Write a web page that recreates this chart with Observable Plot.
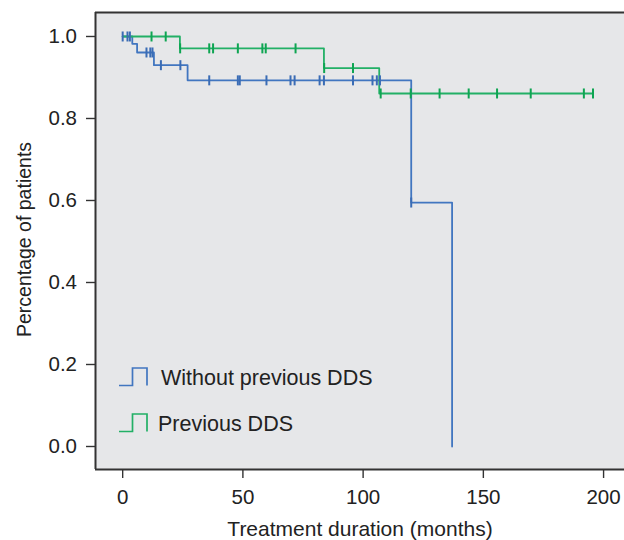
<!DOCTYPE html>
<html><head><meta charset="utf-8">
<script src="https://cdn.jsdelivr.net/npm/d3@7"></script>
<script src="https://cdn.jsdelivr.net/npm/@observablehq/plot@0.6"></script>
<style>
body{margin:0;background:#fff}
#wrap{position:relative;width:624px;height:540px;overflow:hidden;font-family:"Liberation Sans",Arial,sans-serif;color:#222}
.leg{position:absolute;left:119px;display:flex;align-items:flex-end;font-size:21.5px;line-height:1}
.leg svg{display:block;margin-right:14px}
</style>
</head><body><div id="wrap"></div>
<script>
const groups = ["Without previous DDS", "Previous DDS"];
const colors = ["#4176c0", "#22b066"];
const markColors = ["#3a6cb5", "#0ea552"];
// Kaplan-Meier steps (months, survival proportion)
const blueStepTimes = [0, 4, 6, 13, 27, 120, 137];
const blueStepSurv  = [1.0, 0.982, 0.961, 0.930, 0.893, 0.595, 0.0];
const blueCensorTimes = [0, 2, 3, 9.9, 11.5, 12.4, 15.9, 24.0, 36.0, 47.9, 48.7, 59.8, 69.8, 71.5, 81.9, 83.7, 95.8, 103.9, 105.7, 107.0, 120];
const greenStepTimes = [0, 23.8, 83.7, 106.7, 195.6];
const greenStepSurv  = [1.0, 0.971, 0.923, 0.861, 0.861];
const greenCensorTimes = [12.0, 17.9, 23.9, 36.0, 37.6, 47.9, 58.1, 59.5, 71.9, 83.8, 95.8, 107.3, 119.8, 131.8, 143.9, 155.7, 169.7, 191.8, 195.6];
const xTicks = [0, 50, 100, 150, 200];
const yTicks = [0, 0.2, 0.4, 0.6, 0.8, 1.0];
const xDomain = [-11.3, 208.7];
const yDomain = [-0.0561, 1.0585];
const xLabel = "Treatment duration (months)";
const yLabel = "Percentage of patients";

function steps(times, surv, g) { return times.map((t, i) => ({t, s: surv[i], g})); }
function censors(times, stepT, stepS, g) {
  return times.map(t => {
    let s = stepS[0];
    stepT.forEach((st, i) => { if (t >= st) s = stepS[i]; });
    return {t, s, g};
  });
}
const lineData = [
  ...steps(blueStepTimes, blueStepSurv, groups[0]),
  ...steps(greenStepTimes, greenStepSurv, groups[1])
];
const censorData = [
  ...censors(blueCensorTimes, blueStepTimes, blueStepSurv, groups[0]),
  ...censors(greenCensorTimes, greenStepTimes, greenStepSurv, groups[1])
];
const vbar = {draw(context, size) { const r = Math.sqrt(size / Math.PI); context.moveTo(0, -r); context.lineTo(0, r); }};

const chart = Plot.plot({
  width: 624, height: 540,
  marginLeft: 95, marginRight: 0, marginTop: 12, marginBottom: 71,
  x: {domain: xDomain, label: null},
  y: {domain: yDomain, label: null},
  color: {domain: groups, range: colors},
  style: {fontFamily: '"Liberation Sans", Arial, sans-serif', fontSize: "20px", color: "#222", background: "#fff"},
  marks: [
    Plot.frame({fill: "#e6e7e9", stroke: null}),
    Plot.axisX({ticks: xTicks, tickSize: 9, tickPadding: 11, stroke: "#333", strokeWidth: 1.4, label: null, fontSize: 20.5}),
    Plot.axisY({ticks: yTicks, tickFormat: ".1f", tickSize: 9, tickPadding: 9.5, stroke: "#333", strokeWidth: 1.4, label: null, fontSize: 20.5}),
    Plot.line(lineData, {x: "t", y: "s", z: "g", stroke: "g", curve: "step-after", strokeWidth: 1.8}),
    Plot.dot(censorData, {x: "t", y: "s", symbol: vbar, r: 5, stroke: d => markColors[groups.indexOf(d.g)], strokeWidth: 2, fill: "none"}),
    Plot.ruleX([xDomain[0]], {stroke: "#333", strokeWidth: 2}),
    Plot.ruleY([yDomain[0], yDomain[1]], {stroke: "#333", strokeWidth: 2}),
    Plot.text([xLabel], {frameAnchor: "bottom", text: d => d, dy: 60, textAnchor: "middle", lineAnchor: "middle", fontSize: 21, fill: "#222"}),
    Plot.text([yLabel], {frameAnchor: "left", text: d => d, dx: -70.5, dy: -1.5, rotate: -90, textAnchor: "middle", lineAnchor: "middle", fontSize: 19.5, fill: "#222"})
  ]
});
const wrap = document.getElementById("wrap");
wrap.appendChild(chart);

function legendItem(label, color, top, gap) {
  const div = document.createElement("div");
  div.className = "leg";
  div.style.top = top + "px";
  div.innerHTML = `<svg width="29" height="20"><path d="M0,18.5H13.5V1H28V18.5" fill="none" stroke="${color}" stroke-width="1.7"/></svg><span style="margin-left:${gap}px;margin-bottom:-2px">${label}</span>`;
  wrap.appendChild(div);
}
legendItem(groups[0], colors[0], 367, -1);
legendItem(groups[1], colors[1], 413, -4);
</script>
</body></html>
